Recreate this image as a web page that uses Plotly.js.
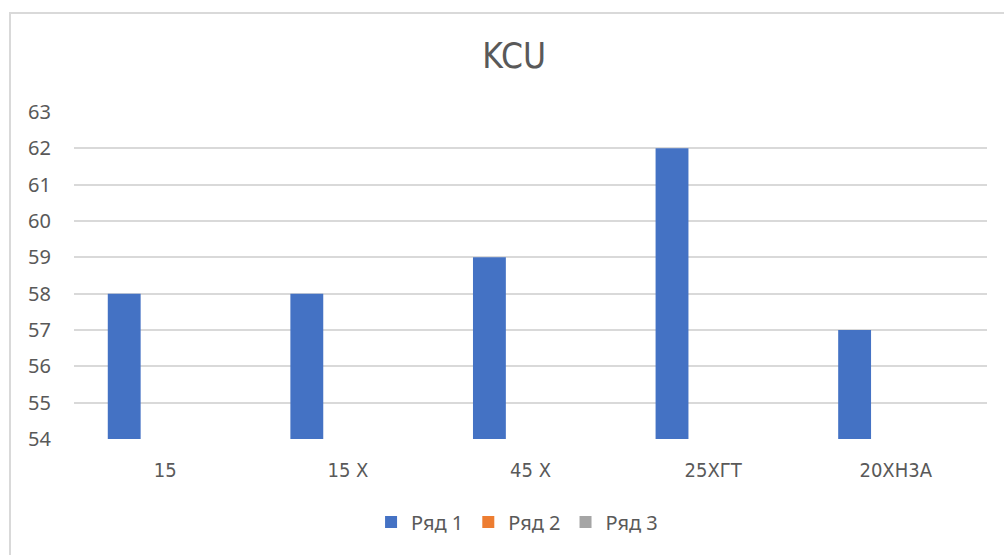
<!DOCTYPE html>
<html>
<head>
<meta charset="utf-8">
<script src="https://cdn.plot.ly/plotly-3.0.1.min.js"></script>
<style>
html,body{margin:0;padding:0;background:#fff;overflow:hidden;}
#chart{width:1004px;height:555px;position:absolute;left:0;top:0;}
#frame{position:absolute;left:9px;top:12px;width:1100px;height:700px;border:2px solid #d9d9d9;pointer-events:none;}
</style>
</head>
<body>
<div id="chart"></div>
<div id="frame"></div>
<script>
var categories = ["15", "15 Х", "45 Х", "25ХГТ", "20ХН3А"];
var series1 = [58, 58, 59, 62, 57];
var series2 = [null, null, null, null, null];
var series3 = [null, null, null, null, null];
var seriesNames = ["Ряд 1", "Ряд 2", "Ряд 3"];
var yTicks = [54, 55, 56, 57, 58, 59, 60, 61, 62, 63];

var narrow = "'Liberation Sans Narrow', 'DejaVu Sans Condensed', 'Arial Narrow', sans-serif";
var regular = "'Noto Sans', 'Open Sans', sans-serif";

var traces = [
  {type:'bar', x:categories, y:series1, name:seriesNames[0], marker:{color:'#4472c4'}, offset:-0.315, width:0.18},
  {type:'bar', x:categories, y:series2, name:seriesNames[1], marker:{color:'#ed7d31'}},
  {type:'bar', x:categories, y:series3, name:seriesNames[2], marker:{color:'#a5a5a5'}}
];

var layout = {
  width:1004, height:555,
  margin:{l:74, r:17, t:112, b:116},
  paper_bgcolor:'rgba(0,0,0,0)', plot_bgcolor:'#fff',
  barmode:'group',
  showlegend:true,
  title:{text:'KCU', font:{family:narrow, size:35, color:'#595959'}, x:0.512, xref:'container', xanchor:'center', y:1-56/555, yref:'container', yanchor:'middle'},
  xaxis:{type:'category', showgrid:false, zeroline:false, showline:false, ticks:'', tickfont:{family:narrow, size:20, color:'#595959'}, ticklabelstandoff:17, fixedrange:true},
  yaxis:{range:[54, 63], tickvals:yTicks, showgrid:true, gridcolor:'#d9d9d9', gridwidth:2, zeroline:false, showline:false, ticks:'', tickfont:{family:regular, size:20, color:'#595959'}, ticklabelstandoff:22, fixedrange:true},
  legend:{orientation:'h', x:0.515, xref:'container', xanchor:'center', y:1-522/555, yref:'container', yanchor:'middle', font:{family:regular, size:20, color:'#595959'}, itemwidth:30, traceorder:'normal'}
};

Plotly.newPlot('chart', traces, layout, {staticPlot:true, displayModeBar:false});
</script>
</body>
</html>
